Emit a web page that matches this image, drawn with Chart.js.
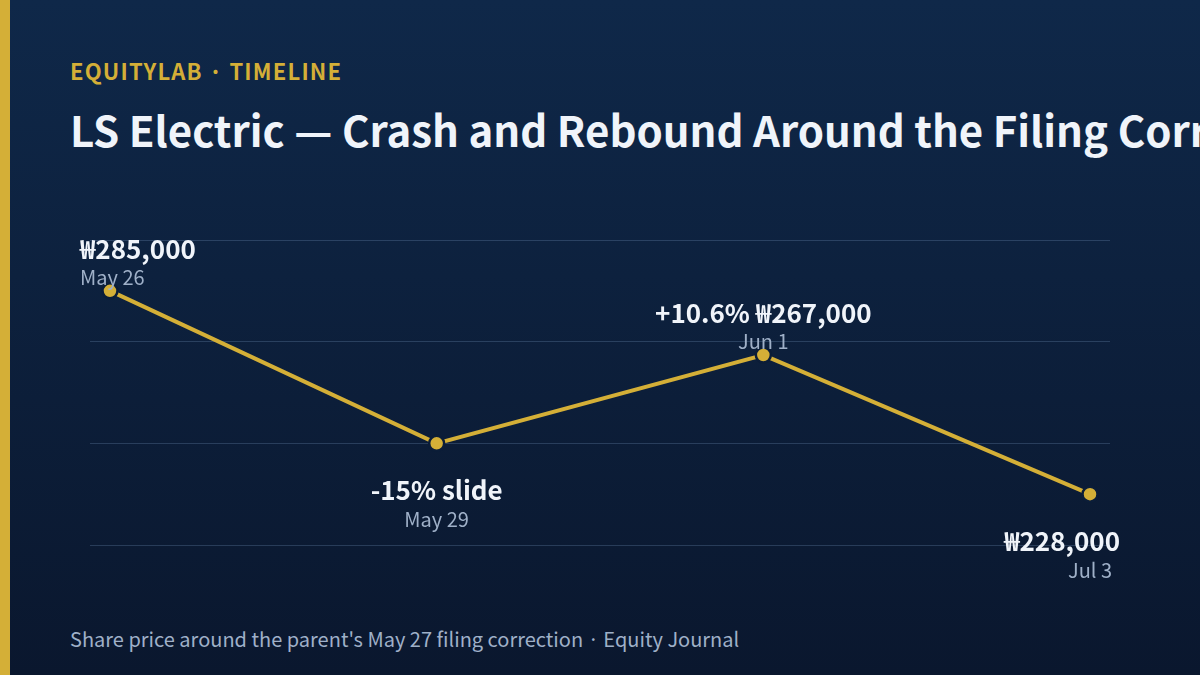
<!DOCTYPE html>
<html>
<head>
<meta charset="utf-8">
<script src="https://cdn.jsdelivr.net/npm/chart.js@4.4.1/dist/chart.umd.min.js"></script>
<style>
  html, body { margin: 0; padding: 0; }
  body {
    width: 1200px; height: 675px; overflow: hidden; position: relative;
    background: linear-gradient(180deg, #0f2849 0%, #0a172e 100%);
    font-family: "Noto Sans CJK KR", "Noto Sans", sans-serif;
  }
  .accent { position: absolute; left: 0; top: 0; width: 10px; height: 675px; background: #d4af37; }
  .kicker {
    position: absolute; left: 70px; top: 54px; font-size: 22px; font-weight: 700;
    color: #d4af37; letter-spacing: 1.2px; white-space: nowrap;
  }
  .title {
    position: absolute; left: 70px; top: 98px; font-size: 42px; font-weight: 700;
    color: #f0f4fa; white-space: nowrap;
  }
  .foot {
    position: absolute; left: 70px; top: 624px; font-size: 20px; color: #9fb0c8; white-space: nowrap;
  }
  .chartbox { position: absolute; left: 0; top: 0; width: 1200px; height: 675px; }
</style>
</head>
<body>
<div class="accent"></div>
<div class="kicker">EQUITYLAB · TIMELINE</div>
<div class="title">LS Electric — Crash and Rebound Around the Filing Correction</div>
<div class="foot">Share price around the parent's May 27 filing correction · Equity Journal</div>
<div class="chartbox"><canvas id="c"></canvas></div>
<script>
var dates = ['May 26', 'May 29', 'Jun 1', 'Jul 3'];
var prices = [285000, 242250, 267000, 228000];
var notes = ['₩285,000', '-15% slide', '+10.6% ₩267,000', '₩228,000'];
var placement = ['above', 'below', 'above', 'below'];
var yMin = 213750;
var yMax = 299250;

var gold = '#d4af37';
var font = '"Noto Sans CJK KR", "Noto Sans", sans-serif';

/* value + date labels next to each point, kept inside the plot width */
var labelPlugin = {
  id: 'pointLabels',
  afterDatasetsDraw: function(chart) {
    var c = chart.ctx;
    var meta = chart.getDatasetMeta(0);
    var left = 80, right = 1120;
    meta.data.forEach(function(pt, i) {
      var x = pt.x, y = pt.y;
      var vy, dy;
      if (placement[i] === 'above') { vy = y - 32; dy = y - 6; }
      else { vy = y + 57; dy = y + 84; }
      c.save();
      c.textBaseline = 'alphabetic';
      c.textAlign = 'left';
      c.font = '700 26px ' + font;
      c.fillStyle = '#f0f4fa';
      var w = c.measureText(notes[i]).width;
      var lx = Math.min(Math.max(x - w / 2, left), right - w);
      c.fillText(notes[i], lx, vy);
      c.font = '400 20px ' + font;
      c.fillStyle = '#9fb0c8';
      w = c.measureText(dates[i]).width;
      lx = Math.min(Math.max(x - w / 2, left), right - w);
      c.fillText(dates[i], lx, dy);
      c.restore();
    });
  }
};

new Chart(document.getElementById('c'), {
  type: 'line',
  data: {
    datasets: [{
      data: prices.map(function(p, i) { return { x: i, y: p }; }),
      borderColor: gold,
      borderWidth: 4,
      pointBackgroundColor: gold,
      pointBorderColor: '#0b1d38',
      pointBorderWidth: 2.5,
      pointRadius: 7.5,
      tension: 0,
      clip: false
    }]
  },
  options: {
    responsive: true,
    maintainAspectRatio: false,
    animation: false,
    layout: { padding: { left: 90, right: 90, top: 240, bottom: 130 } },
    plugins: { legend: { display: false }, tooltip: { enabled: false } },
    scales: {
      x: { type: 'linear', display: false, min: -0.0612, max: 3.0612 },
      y: {
        min: yMin, max: yMax,
        border: { display: false },
        grid: { color: 'rgba(120,150,190,0.28)', lineWidth: 1, drawTicks: false },
        ticks: { display: false, count: 4 }
      }
    }
  },
  plugins: [labelPlugin]
});
</script>
</body>
</html>
